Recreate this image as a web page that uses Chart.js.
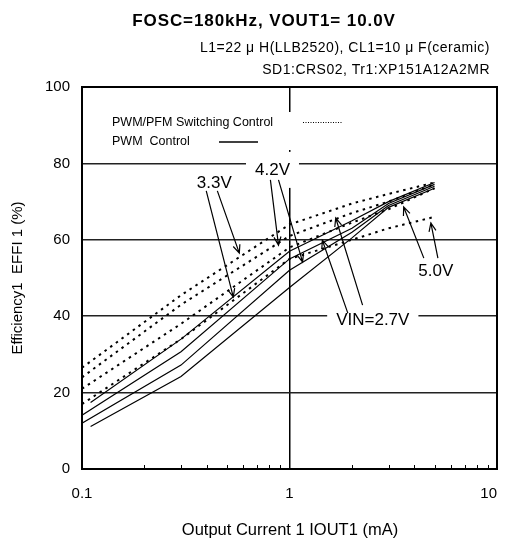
<!DOCTYPE html>
<html>
<head>
<meta charset="utf-8">
<script src="https://cdn.jsdelivr.net/npm/chart.js@4.4.0/dist/chart.umd.min.js"></script>
<style>
  html, body { margin: 0; padding: 0; background: #fff; }
  #wrap { width: 507px; height: 540px; }
</style>
</head>
<body>
<div id="wrap"><canvas id="effChart" width="507" height="540"></canvas></div>
<script>
// x positions (mA)
const pwmXa = [0.11, 0.3, 1, 2, 3, 5];
const pwmXb = [0.1, 0.3, 1, 2, 3, 5];
const pfmX = [0.1, 0.3, 1, 2, 3, 5];

// PWM control (solid), efficiency %
const pwm33 = [17.4, 34, 57, 65, 70, 75];
const pwm27 = [14.1, 30.7, 55, 63, 69.5, 74.5];
const pwm42 = [12, 27.2, 52, 62, 69, 74];
const pwm50 = [11.1, 24.2, 47.5, 60.5, 68.5, 73.5];

// PWM/PFM switching control (dotted)
const pfm33 = [26.5, 45.5, 64, 69.5, 72, 75];
const pfm42 = [24, 43, 61, 67, 70, 74.5];
const pfm27 = [21, 38, 58, 64.5, 68, 73.5];
const pfm50 = [17, 34, 55, 60, 63, 66];

const xTicks = [0.1, 0.2, 0.3, 0.4, 0.5, 0.6, 0.7, 0.8, 0.9, 1, 2, 3, 4, 5, 6, 7, 8, 9, 10];
const xTickLabels = ['0.1', '1', '10'];
const yTicks = [0, 20, 40, 60, 80, 100];

// callouts: text at [x, y] in data units, arrows [fromX, fromY, toX, toY]
const callouts = [
  { text: '3.3V', at: [0.434, 74.9], box: false,
    arrows: [[0.397, 72.8, 0.536, 45.0], [0.449, 72.8, 0.573, 56.5]] },
  { text: '4.2V', at: [0.828, 78.3], box: true,
    arrows: [[0.809, 75.7, 0.885, 58.6], [0.885, 75.7, 1.156, 54.2]] },
  { text: '5.0V', at: [5.07, 51.8], box: false,
    arrows: [[4.44, 55.2, 3.55, 68.6], [5.19, 55.2, 4.80, 64.4]] },
  { text: 'VIN=2.7V', at: [2.52, 39.0], box: true,
    arrows: [[1.91, 40.8, 1.44, 59.9], [2.25, 42.9, 1.67, 65.7]] }
];

const FONT = '"Liberation Sans", Arial, sans-serif';

function xy(xs, ys) {
  return xs.map((x, i) => ({ x: x, y: ys[i] }));
}

function solid(data) {
  return { data: data, borderColor: '#000', borderWidth: 1.2, pointRadius: 0, fill: false, tension: 0 };
}
function dotted(data) {
  return { data: data, borderColor: '#000', borderWidth: 2, borderDash: [2.5, 4.5], pointRadius: 0, fill: false, tension: 0 };
}

function arrow(ctx, x1, y1, x2, y2) {
  const ang = Math.atan2(y2 - y1, x2 - x1);
  const len = 9, spread = 0.4;
  ctx.beginPath();
  ctx.moveTo(x1, y1);
  ctx.lineTo(x2, y2);
  ctx.moveTo(x2 - len * Math.cos(ang - spread), y2 - len * Math.sin(ang - spread));
  ctx.lineTo(x2, y2);
  ctx.lineTo(x2 - len * Math.cos(ang + spread), y2 - len * Math.sin(ang + spread));
  ctx.stroke();
}

const overlay = {
  id: 'overlay',
  afterDatasetsDraw(chart) {
    const ctx = chart.ctx;
    const a = chart.chartArea;
    const xs = chart.scales.x, ys = chart.scales.y;
    ctx.save();
    ctx.fillStyle = '#000';
    ctx.strokeStyle = '#000';

    // minor ticks on the bottom axis, pointing inward
    ctx.lineWidth = 1;
    xTicks.forEach(v => {
      if (xTickLabels.indexOf(String(v)) >= 0) return;
      const px = Math.round(xs.getPixelForValue(v)) + 0.5;
      ctx.beginPath();
      ctx.moveTo(px, a.bottom);
      ctx.lineTo(px, a.bottom - 4);
      ctx.stroke();
    });

    // legend box
    const lx = a.left + 30, ly = a.top + 25;
    ctx.fillStyle = '#fff';
    ctx.fillRect(lx - 6, ly, 245, 38);
    ctx.fillStyle = '#000';
    ctx.font = '12.5px ' + FONT;
    ctx.textBaseline = 'middle';
    ctx.textAlign = 'left';
    ctx.fillText('PWM/PFM Switching Control', lx, ly + 11);
    ctx.fillText('PWM  Control', lx, ly + 30);
    ctx.lineWidth = 1;
    ctx.setLineDash([1, 1.5]);
    ctx.beginPath();
    ctx.moveTo(lx + 191, ly + 10.5);
    ctx.lineTo(lx + 230, ly + 10.5);
    ctx.stroke();
    ctx.setLineDash([]);
    ctx.lineWidth = 1.3;
    ctx.beginPath();
    ctx.moveTo(lx + 107, ly + 30);
    ctx.lineTo(lx + 146, ly + 30);
    ctx.stroke();

    // callouts
    ctx.font = '17px ' + FONT;
    callouts.forEach(c => {
      const tx = xs.getPixelForValue(c.at[0]);
      const ty = ys.getPixelForValue(c.at[1]);
      const w = ctx.measureText(c.text).width;
      if (c.box) {
        ctx.fillStyle = '#fff';
        const h = c.text === '4.2V' ? 36 : 20;
        ctx.fillRect(tx - w / 2 - 9, ty - h / 2, w + 18, h);
      }
      ctx.fillStyle = '#000';
      ctx.textAlign = 'center';
      ctx.fillText(c.text, tx, ty);
      ctx.lineWidth = 1.2;
      c.arrows.forEach(r => {
        arrow(ctx, xs.getPixelForValue(r[0]), ys.getPixelForValue(r[1]),
          xs.getPixelForValue(r[2]), ys.getPixelForValue(r[3]));
      });
    });

    // frame
    ctx.lineWidth = 2;
    ctx.strokeRect(a.left, a.top, a.right - a.left, a.bottom - a.top);

    // tick labels
    ctx.font = '15px ' + FONT;
    ctx.textAlign = 'right';
    yTicks.forEach(v => {
      ctx.fillText(String(v), a.left - 12, ys.getPixelForValue(v));
    });
    xTickLabels.forEach((t, i) => {
      ctx.textAlign = i === xTickLabels.length - 1 ? 'right' : 'center';
      ctx.fillText(t, xs.getPixelForValue(Number(t)), a.bottom + 25);
    });

    // axis titles
    ctx.font = '16.5px ' + FONT;
    ctx.textAlign = 'center';
    ctx.fillText('Output Current 1 IOUT1 (mA)', 290, 530);
    ctx.font = '15px ' + FONT;
    ctx.save();
    ctx.translate(18, 278);
    ctx.rotate(-Math.PI / 2);
    ctx.fillText('Efficiency1  EFFI 1 (%)', 0, 0);
    ctx.restore();

    // titles
    ctx.font = 'bold 17px ' + FONT;
    ctx.letterSpacing = '0.9px';
    ctx.fillText('FOSC=180kHz, VOUT1= 10.0V', 264, 21);
    ctx.font = '14px ' + FONT;
    ctx.letterSpacing = '0.5px';
    ctx.textAlign = 'right';
    ctx.fillText('L1=22 \u03BC H(LLB2520), CL1=10 \u03BC F(ceramic)', 490, 48);
    ctx.fillText('SD1:CRS02, Tr1:XP151A12A2MR', 490, 70);
    ctx.letterSpacing = '0px';
    ctx.restore();
  }
};

new Chart(document.getElementById('effChart'), {
  type: 'line',
  data: {
    datasets: [
      dotted(xy(pfmX, pfm33)),
      dotted(xy(pfmX, pfm42)),
      dotted(xy(pfmX, pfm27)),
      dotted(xy(pfmX, pfm50)),
      solid(xy(pwmXa, pwm33)),
      solid(xy(pwmXb, pwm27)),
      solid(xy(pwmXb, pwm42)),
      solid(xy(pwmXa, pwm50))
    ]
  },
  options: {
    responsive: false,
    animation: false,
    layout: { padding: { left: 82, top: 87, right: 10, bottom: 71 } },
    plugins: { legend: { display: false }, tooltip: { enabled: false } },
    scales: {
      x: {
        type: 'logarithmic', min: 0.1, max: 10,
        afterBuildTicks: s => { s.ticks = xTicks.map(v => ({ value: v })); },
        afterFit: s => { s.height = 0; },
        ticks: { display: false },
        grid: { drawTicks: false, lineWidth: 1.5, color: c => (c.tick && c.tick.value === 1) ? '#000' : 'rgba(0,0,0,0)' },
        border: { display: false }
      },
      y: {
        min: 0, max: 100,
        afterBuildTicks: s => { s.ticks = yTicks.map(v => ({ value: v })); },
        afterFit: s => { s.width = 0; },
        ticks: { display: false },
        grid: { drawTicks: false, lineWidth: 1.5, color: '#222' },
        border: { display: false }
      }
    }
  },
  plugins: [overlay]
});
</script>
</body>
</html>
